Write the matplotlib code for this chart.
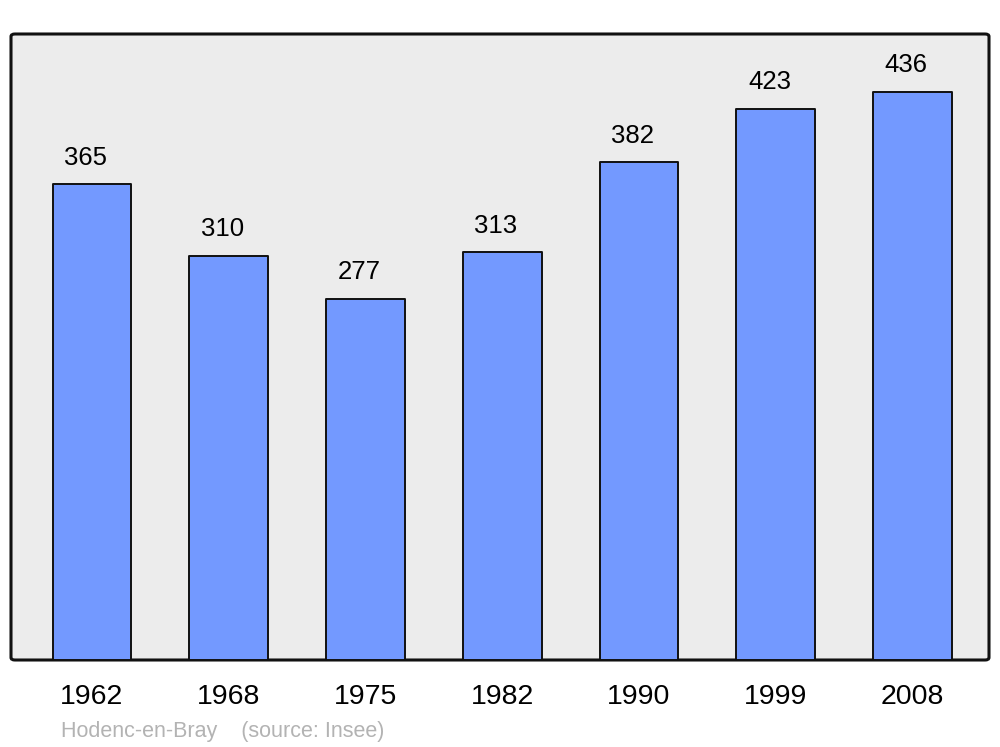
import matplotlib
matplotlib.use("Agg")
import matplotlib.pyplot as plt
from matplotlib.patches import FancyBboxPatch

years = ["1962", "1968", "1975", "1982", "1990", "1999", "2008"]
population = [365, 310, 277, 313, 382, 423, 436]
footer = "Hodenc-en-Bray    (source: Insee)"

plt.rcParams['font.family'] = ['Liberation Sans', 'DejaVu Sans']

fig = plt.figure(figsize=(10, 7.47), dpi=100)
ax = fig.add_axes([11/1000, 87/747, 978/1000, 626/747])
ax.set_facecolor('none')

frame = FancyBboxPatch((0, 0), 1, 1, boxstyle="round,pad=0,rounding_size=0.004",
                       transform=ax.transAxes, facecolor='#ececec', edgecolor='#111111',
                       linewidth=2.2, clip_on=False, zorder=0)
ax.add_patch(frame)

x = list(range(len(years)))
bars = ax.bar(x, population, width=0.575, color='#7399ff', edgecolor='#111111',
              linewidth=1.4, zorder=2)
for b in bars:
    b.set_joinstyle('round')

for xi, v in zip(x, population):
    ax.annotate(str(v), (xi, v), xytext=(-4.5, 10.5), textcoords='offset points',
                ha='center', va='bottom', fontsize=18.5, color='black')

ax.set_xlim(-0.592, 6.559)
ax.set_ylim(0, 480.4)
ax.set_xticks(x)
ax.set_xticklabels(years, fontsize=20.5)
ax.tick_params(axis='x', length=0, pad=17)
ax.set_yticks([])
for s in ax.spines.values():
    s.set_visible(False)

fig.text(61/1000, 1 - 732/747, footer, fontsize=15.5, color='#b3b3b3',
         ha='left', va='center')

fig.savefig("out.png", dpi=100)
